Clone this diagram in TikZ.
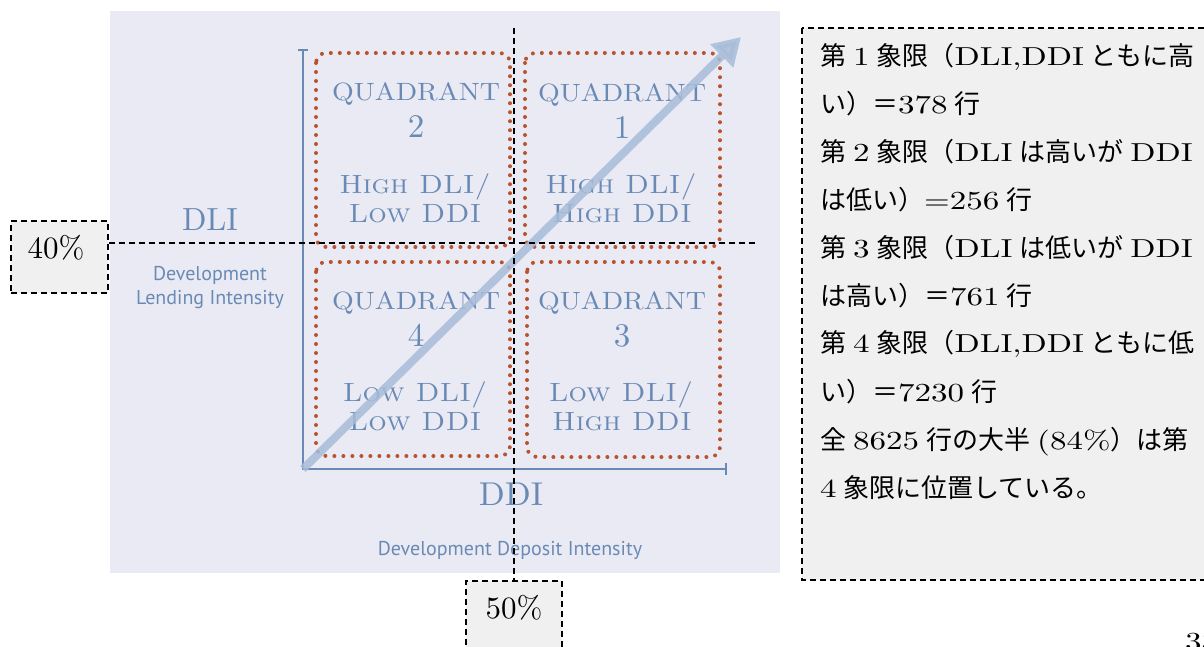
\documentclass[tikz,border=0pt]{standalone}
\usepackage{fontspec}
\usepackage{graphicx}
\newfontfamily\cjk{Noto Sans CJK JP}
\newfontfamily\lblsans{PT Sans}
\usetikzlibrary{arrows.meta}
\definecolor{scanbg}{HTML}{E9EAF3}
\definecolor{inkblue}{HTML}{6A8AB6}
\definecolor{dotred}{HTML}{B9532E}
\definecolor{arrowblue}{HTML}{A8BCD8}
\definecolor{notebg}{HTML}{F0F0F0}
% text set at the 10pt design size, then scaled (x factor, y factor)
\newcommand\dsgn[3]{\scalebox{#1}[#2]{\fontsize{10}{12}\selectfont #3}}
\newcommand\lt[1]{{\rmfamily\dsgn{3.3}{2.6}{#1}}}
\newcommand\sk{\hspace{7pt}}
\begin{document}
\begin{tikzpicture}[x=1pt,y=-1pt,
  qbox/.style={draw=dotred, line width=4pt, dash pattern=on 0pt off 9pt, line cap=round, rounded corners=10pt},
  qtxt/.style={text=inkblue, anchor=base, inner sep=0pt},
  axissub/.style={text=inkblue, anchor=base, inner sep=0pt, font=\lblsans\fontsize{20}{22}\selectfont},
  axisline/.style={draw=inkblue, line width=2pt},
  refline/.style={draw=black, line width=1.5pt, dash pattern=on 6pt off 4pt},
  refbox/.style={refline, fill=notebg},
  noteline/.style={anchor=base west, inner sep=0pt, font=\cjk\fontsize{26}{30}\selectfont},
  pct/.style={inner sep=0pt},
  bigarrow/.style={draw=arrowblue, line width=8pt, -{Triangle[length=27pt,width=31pt]}, opacity=0.85}
]
\useasboundingbox (0,0) rectangle (1204,646);
\fill[white] (0,0) rectangle (1204,646);
\fill[scanbg] (110,11) rectangle (780,573);

% axes
\coordinate (ax0) at (303,469);
\coordinate (axTop) at (303,50);
\coordinate (axRight) at (726,469);
\draw[axisline] (axTop) -- (ax0) -- (axRight);
\draw[axisline] ([xshift=-5pt]axTop) -- ([xshift=5pt]axTop);
\draw[axisline] ([yshift=6pt]axRight) -- ([yshift=-6pt]axRight);

% dotted quadrant boxes
\draw[qbox] (316,53) rectangle (510,247);
\draw[qbox] (525,53) rectangle (720,247);
\draw[qbox] (316,262) rectangle (510,456);
\draw[qbox] (527,262) rectangle (720,457);

% quadrant texts
\node[qtxt] (q2a) at (416,100) {\dsgn{2.8}{2.5}{QUADRANT}};
\node[qtxt] (q2b) at (416,137) {\dsgn{3.3}{3.3}{2}};
\node[qtxt] (q2c) at (415,193) {\dsgn{2.9}{2.64}{\scshape High DLI/}};
\node[qtxt] (q2d) at (415,222) {\dsgn{2.9}{2.64}{\scshape Low DDI}};

\node[qtxt] (q1a) at (622,101) {\dsgn{2.8}{2.5}{QUADRANT}};
\node[qtxt] (q1b) at (622,138) {\dsgn{3.3}{3.3}{1}};
\node[qtxt] (q1c) at (621,193) {\dsgn{2.9}{2.64}{\scshape High DLI/}};
\node[qtxt] (q1d) at (622,222) {\dsgn{2.9}{2.64}{\scshape High DDI}};

\node[qtxt] (q4a) at (416,309) {\dsgn{2.8}{2.5}{QUADRANT}};
\node[qtxt] (q4b) at (416,346) {\dsgn{3.3}{3.3}{4}};
\node[qtxt] (q4c) at (415,401) {\dsgn{2.9}{2.64}{\scshape Low DLI/}};
\node[qtxt] (q4d) at (415,430) {\dsgn{2.9}{2.64}{\scshape Low DDI}};

\node[qtxt] (q3a) at (622,309) {\dsgn{2.8}{2.5}{QUADRANT}};
\node[qtxt] (q3b) at (622,346) {\dsgn{3.3}{3.3}{3}};
\node[qtxt] (q3c) at (621,401) {\dsgn{2.9}{2.64}{\scshape Low DLI/}};
\node[qtxt] (q3d) at (622,430) {\dsgn{2.9}{2.64}{\scshape High DDI}};

% axis labels
\node[qtxt] (dli) at (210,230) {\dsgn{3.2}{3.2}{DLI}};
\node[axissub] (dlis1) at (210,280) {Development};
\node[axissub] (dlis2) at (210,304) {Lending Intensity};
\node[qtxt] (ddi) at (511,505) {\dsgn{3.4}{3.3}{DDI}};
\node[axissub] (ddis) at (510,555) {Development Deposit Intensity};

% big arrow
\coordinate (arrTip) at (741,37);
\draw[bigarrow] (ax0) -- (arrTip);

% reference boxes and dashed lines
\node[refbox, minimum width=97pt, minimum height=72pt, anchor=north west] (b40) at (10,220) {};
\node[pct] (t40) at (56,248) {\dsgn{3.1}{3.1}{40\%}};
\coordinate (hEnd) at (757,243);
\draw[refline] (b40.east |- hEnd) -- (hEnd);

\node[refbox, minimum width=96pt, minimum height=80pt, anchor=north] (b50) at (514,580) {};
\node[pct] (t50) at (514,608) {\dsgn{3.1}{3.1}{50\%}};
\coordinate (vTop) at (514,28);
\draw[refline] (vTop) -- (b50.north);

% notes box
\draw[refbox] (802,28) rectangle (1216,580);
\node[noteline] (n1) at (820,65) {第\sk\lt{1}\sk 象限（\lt{DLI,DDI}\sk ともに高};
\node[noteline] (n2) at (820,113) {い）＝\lt{378}\sk 行};
\node[noteline] (n3) at (820,161) {第\sk\lt{2}\sk 象限（\lt{DLI}\sk は高いが\sk\lt{DDI}};
\node[noteline] (n4) at (820,209) {は低い）\lt{=256}\sk 行};
\node[noteline] (n5) at (820,257) {第\sk\lt{3}\sk 象限（\lt{DLI}\sk は低いが\sk\lt{DDI}};
\node[noteline] (n6) at (820,305) {は高い）＝\lt{761}\sk 行};
\node[noteline] (n7) at (820,352) {第\sk\lt{4}\sk 象限（\lt{DLI,DDI}\sk ともに低};
\node[noteline] (n8) at (820,401) {い）＝\lt{7230}\sk 行};
\node[noteline] (n9) at (820,449) {全\sk\lt{8625}\sk 行の大半\sk\lt{(84\%}）は第};
\node[noteline] (n10) at (820,497) {\lt{4}\sk 象限に位置している。};

\node[anchor=base west, inner sep=0pt] (pg) at (1185,650) {\lt{33}};
\end{tikzpicture}
\end{document}
